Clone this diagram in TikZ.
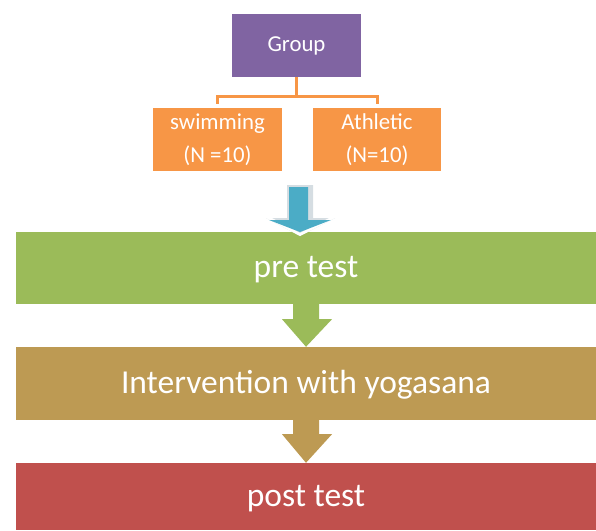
\documentclass[tikz,border=0pt]{standalone}
\usepackage{fontspec}
\setmainfont{Carlito}
\usetikzlibrary{calc}
\definecolor{cpurple}{HTML}{8064A2}
\definecolor{corange}{HTML}{F79646}
\definecolor{cgreen}{HTML}{9BBB59}
\definecolor{ctan}{HTML}{BD9A53}
\definecolor{cred}{HTML}{C0504D}
\definecolor{cblue}{HTML}{4BACC6}
\definecolor{cshade}{HTML}{D5DDE2}
\tikzset{
  smallbox/.style={rectangle, inner sep=0pt, text=white, font=\fontsize{22.8}{33}\selectfont, align=center},
  bar/.style={rectangle, inner sep=0pt, minimum width=580pt, text=white, font=\fontsize{33.5}{40}\selectfont},
  bartext/.style={text=white, font=\fontsize{33.5}{40}\selectfont, inner sep=0pt},
  conn/.style={draw=corange, line width=3pt},
}
\begin{document}
\begin{tikzpicture}[x=1pt,y=-1pt]
\useasboundingbox (0,0) rectangle (596,530);
% top tree
\node[smallbox, fill=cpurple, minimum width=129pt, minimum height=63pt] (group) at (296.5,45.5) {Group};
\node[smallbox, fill=corange, minimum width=129pt, minimum height=63pt] (swim) at (217.5,139.5) {swimming\\(N =10)};
\node[smallbox, fill=corange, minimum width=128pt, minimum height=63pt] (ath) at (377,139.5) {Athletic\\(N=10)};
\coordinate (mid) at ($(group.south)+(0,19)$);
\draw[conn] (group.south) -- (mid);
\draw[conn, shorten >=4pt] (mid) -| (swim.north);
\draw[conn, shorten >=4pt] (mid) -| (ath.north);
% bars
\node[bar, fill=cgreen, minimum height=72pt] (pre) at (306,268) {};
\node[bar, fill=ctan, minimum height=73pt] (interv) at (306,383.5) {};
\node[bar, fill=cred, minimum height=67pt] (post) at (306,496.5) {};
\node[bartext] (pretxt) at ($(pre.center)+(0,2)$) {pre test};
\node[bartext] (intervtxt) at ($(interv.center)+(0,1.5)$) {Intervention with yogasana};
\node[bartext] (posttxt) at ($(post.center)+(0,2)$) {post test};
% blue arrow (with light bevel)
\fill[cshade] (287,185) -- (313,185) -- (313,218) -- (335,218) -- (300,236) -- (266,218) -- (287,218) -- cycle;
\fill[white] (300,236) -- (266,218) -- (272,218) -- (300,233) -- (329,218) -- (335,218) -- cycle;
\fill[cblue] (289,187) -- (308,187) -- (308,220) -- (331,220) -- (300,232) -- (269,220) -- (289,220) -- cycle;
% green arrow
\fill[cgreen] ($(pre.south)+(-13,0)$) -- ($(pre.south)+(13,0)$) -- ($(pre.south)+(13,15)$) -- ($(pre.south)+(26,15)$) -- (interv.north) -- ($(pre.south)+(-24,15)$) -- ($(pre.south)+(-13,15)$) -- cycle;
% tan arrow
\fill[ctan] ($(interv.south)+(-13,0)$) -- ($(interv.south)+(13,0)$) -- ($(interv.south)+(13,14)$) -- ($(interv.south)+(26,14)$) -- (post.north) -- ($(interv.south)+(-24,14)$) -- ($(interv.south)+(-13,14)$) -- cycle;
\end{tikzpicture}
\end{document}
